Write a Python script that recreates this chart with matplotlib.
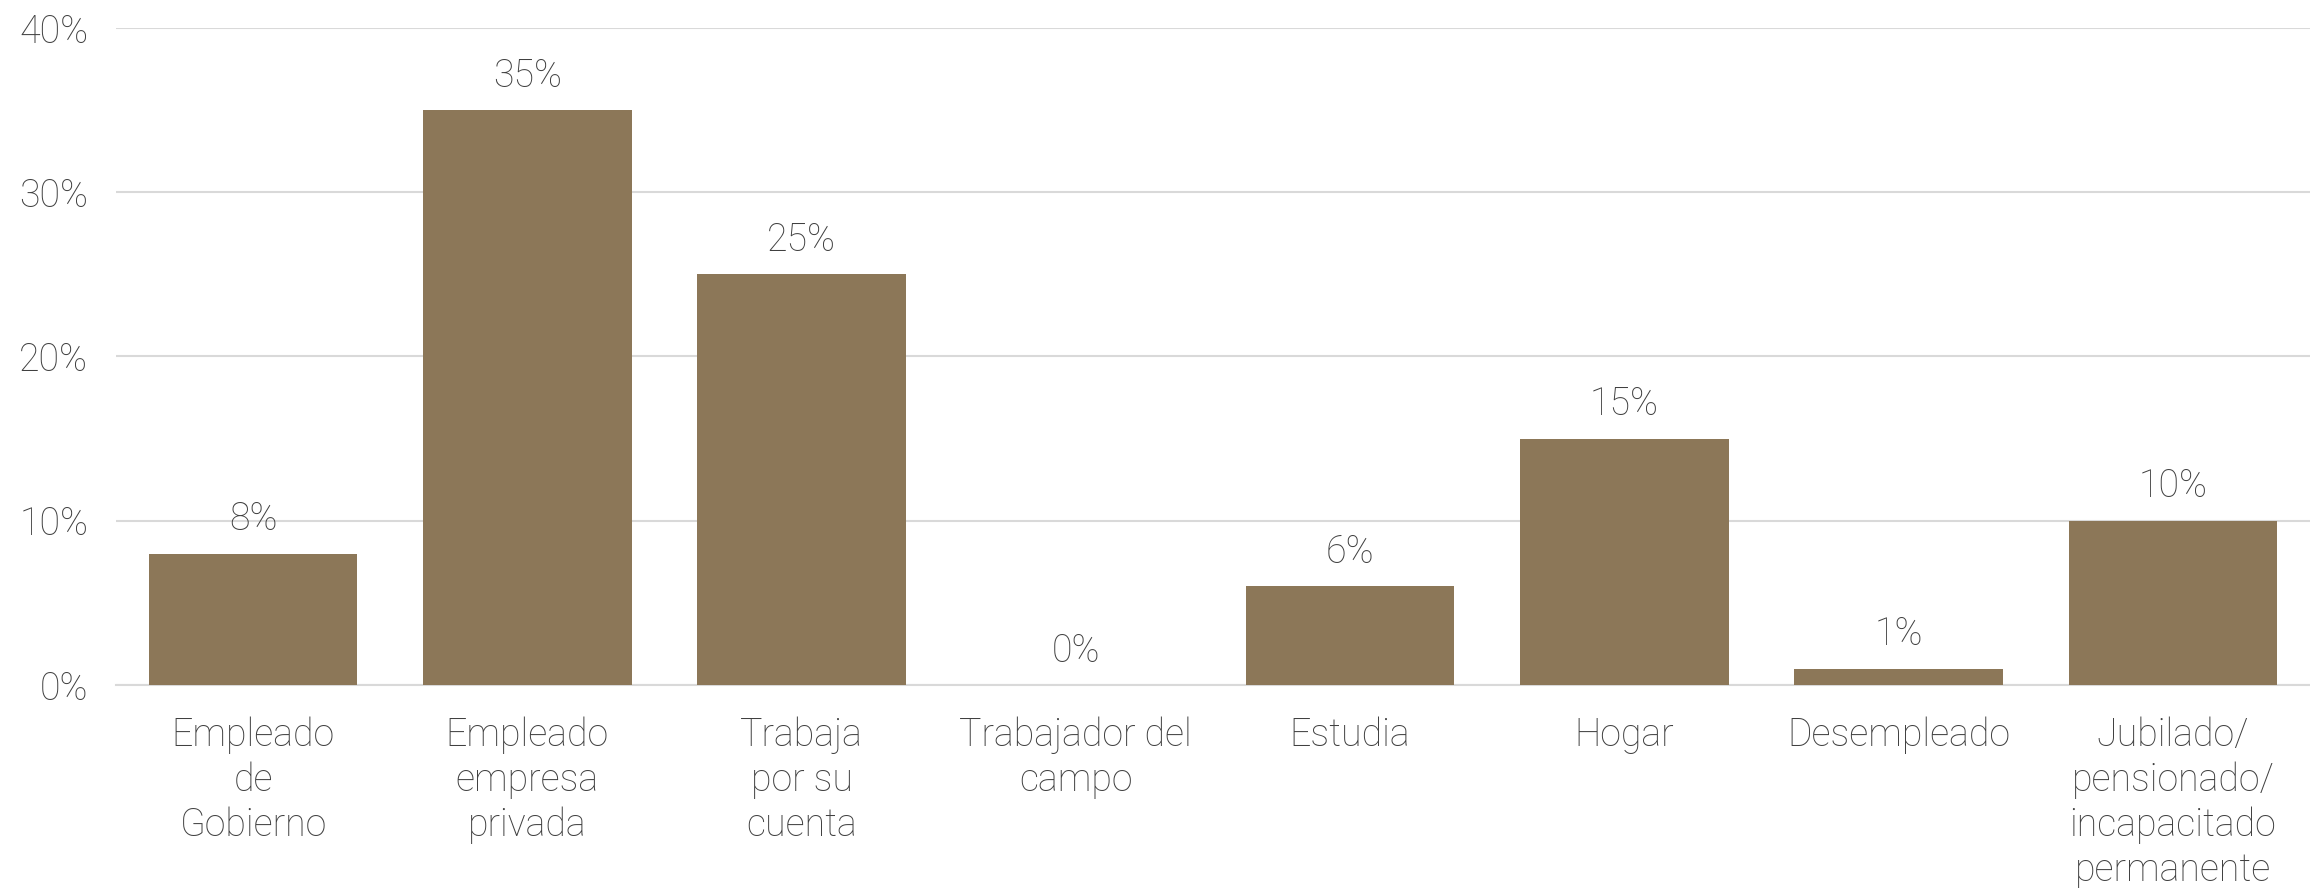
import matplotlib
matplotlib.use("Agg")
import matplotlib.pyplot as plt

categories = ["Empleado\nde\nGobierno", "Empleado\nempresa\nprivada", "Trabaja\npor su\ncuenta",
              "Trabajador del\ncampo", "Estudia", "Hogar", "Desempleado",
              "Jubilado/\npensionado/\nincapacitado\npermanente"]
values = [8, 35, 25, 0, 6, 15, 1, 10]
yticks = [0, 10, 20, 30, 40]

plt.rcParams['font.family'] = ['Roboto', 'DejaVu Sans']
plt.rcParams['font.weight'] = 'light'

bar_color = "#8C7758"
text_color = "#404040"
grid_color = "#D9D9D9"
fs = 27

fig = plt.figure(figsize=(23.1, 8.88), dpi=100)
ax = fig.add_axes([0.0502, 0.2286, 0.9498, 0.7399])
x = list(range(len(categories)))
ax.bar(x, values, width=0.76, color=bar_color, zorder=3)
ax.set_xlim(-0.5, len(categories) - 0.5)
ax.set_ylim(0, 40)
ax.set_yticks(yticks)
ax.set_yticklabels([f"{v}%" for v in yticks])
ax.yaxis.grid(True, color=grid_color, linewidth=1.5, zorder=0)
ax.set_axisbelow(True)
for s in ["top", "right", "left"]:
    ax.spines[s].set_visible(False)
ax.spines["bottom"].set_color(grid_color)
ax.spines["bottom"].set_linewidth(1.5)
ax.tick_params(axis="both", length=0, colors=text_color, labelsize=fs)
ax.tick_params(axis="x", pad=23)
ax.tick_params(axis="y", pad=20)
ax.set_xticks(x)
ax.set_xticklabels(categories, linespacing=1.25)
for xi, v in zip(x, values):
    ax.annotate(f"{v}%", (xi, v), xytext=(0, 11), textcoords="offset points",
                ha="center", va="bottom", fontsize=fs, color=text_color)

fig.savefig("out.png", dpi=100)
